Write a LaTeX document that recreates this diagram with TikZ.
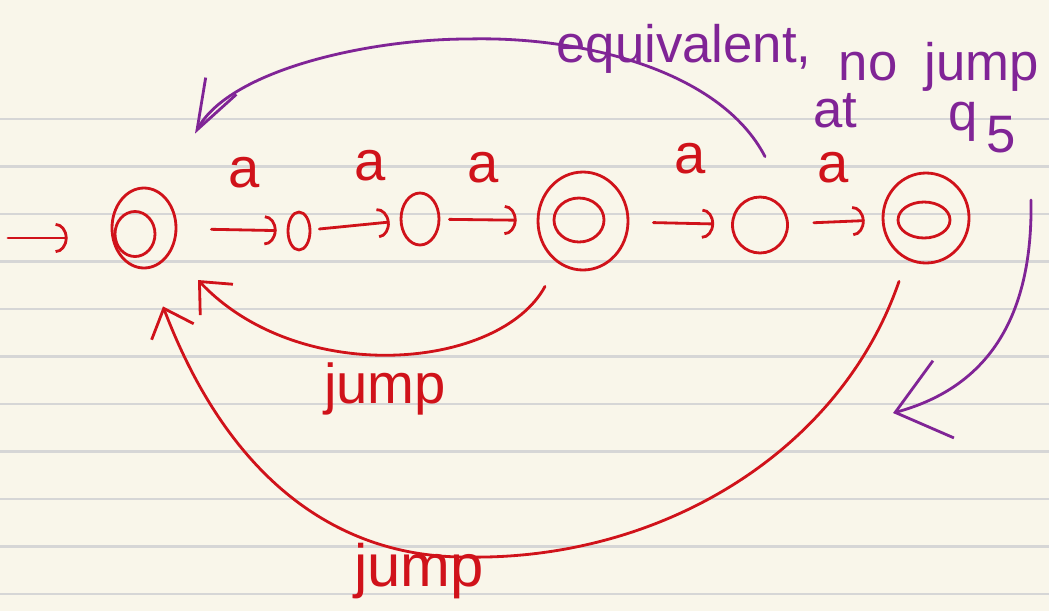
\documentclass[tikz,border=0pt]{standalone}
\usepackage{fontspec}
\setmainfont{Liberation Sans}
\usetikzlibrary{arrows.meta,shapes.geometric}
\definecolor{paper}{RGB}{249,246,234}
\definecolor{rule}{RGB}{214,214,214}
\definecolor{ink}{RGB}{208,18,26}
\definecolor{pen}{RGB}{128,36,150}
\tikzset{
  st/.style={draw=ink,ellipse,inner sep=0pt,line width=0.8pt},
  trans/.style={draw=ink,line width=0.8pt,-{Arc Barb[width=3mm,length=1.2mm]}},
  jumpline/.style={draw=ink,line width=0.8pt,-{Straight Barb[length=2.5mm,width=4.5mm]}},
  noteline/.style={draw=pen,line width=0.8pt},
  lbl/.style={text=ink,font=\fontsize{16}{19}\selectfont,anchor=base,inner sep=0pt},
  note/.style={text=pen,font=\fontsize{15}{18}\selectfont,anchor=base,inner sep=0pt}
}

\begin{document}
\begin{tikzpicture}[line cap=round,line join=round]
  \path[use as bounding box,fill=paper] (0,0) rectangle (10.49,6.11);
  \foreach \k in {0,...,10}
    \draw[rule,line width=0.6pt] (0,4.92-0.475*\k) -- (10.49,4.92-0.475*\k);
  % states
  \node[st,minimum width=6.4mm,minimum height=8mm] (q0) at (1.44,3.83) {};
  \node[st,minimum width=4mm,minimum height=4.5mm] (q0i) at (1.35,3.77) {};
  \node[st,minimum width=2.2mm,minimum height=3.8mm] (q1) at (2.99,3.80) {};
  \node[st,minimum width=3.8mm,minimum height=5.2mm] (q2) at (4.20,3.92) {};
  \node[st,minimum width=9mm,minimum height=9.8mm] (q3) at (5.83,3.90) {};
  \node[st,minimum width=5mm,minimum height=4.4mm] (q3i) at (5.79,3.91) {};
  \node[st,minimum width=5.5mm,minimum height=5.6mm] (q4) at (7.60,3.86) {};
  \node[st,minimum width=8.6mm,minimum height=9mm] (q5) at (9.26,3.93) {};
  \node[st,minimum width=5.2mm,minimum height=3.6mm] (q5i) at (9.24,3.91) {};
  % a-transitions
  \coordinate (start) at (0.08,3.73);
  \draw[trans,shorten >=4.3mm] (start) -- (start -| q0.west);
  \draw[trans,shorten <=3.4mm,shorten >=1mm] (q0) -- (q1);
  \draw[trans,shorten <=0.8mm,shorten >=1mm] (q1) -- (q2);
  \draw[trans,shorten <=0.9mm,shorten >=2mm] (q2) -- (q3);
  \draw[trans,shorten <=2.4mm,shorten >=1.7mm] (q3) -- (q4);
  \draw[trans,shorten <=2.5mm,shorten >=1.7mm] (q4) -- (q5);
  \node[lbl] (a01) at (2.44,4.24) {a};
  \node[lbl] (a12) at (3.70,4.31) {a};
  \node[lbl] (a23) at (4.83,4.29) {a};
  \node[lbl] (a34) at (6.90,4.38) {a};
  \node[lbl] (a45) at (8.33,4.29) {a};
  % jumps back to q0
  \draw[jumpline] ([shift={(-0.38,-0.15)}]q3.south)
    .. controls +(-0.45,-0.83) and +(1.02,-1.08) .. ([shift={(0.54,-0.52)}]q0.center);
  \draw[jumpline] ([shift={(-0.27,-0.17)}]q5.south)
    .. controls +(-0.59,-1.71) and +(1.95,-0.04) .. (4.65,0.54)
    .. controls +(-1.25,0) and +(0.67,-1.76) .. ([shift={(0.19,-0.37)}]q0.south);
  \node[lbl] (j1) at (3.85,2.08) {jump};
  \node[lbl,font=\fontsize{17}{20}\selectfont] (j2) at (4.19,0.25) {jump};
  % notes
  \draw[noteline,-{Straight Barb[length=5mm,width=3.5mm]}] ([shift={(0.05,0.39)}]q4.north)
    .. controls +(-0.45,0.87) and +(1.12,0.03) .. (4.68,5.72)
    .. controls +(-0.98,0) and +(0.35,0.64) .. ([shift={(0.51,0.53)}]q0.north);
  \coordinate (noteR) at (10.31,4.11);
  \coordinate (noteTip) at (8.93,1.98);
  \draw[noteline,-{Straight Barb[length=5mm,width=8mm]}] (noteR)
    .. controls +(0.02,-1.21) and +(0.92,0.25) .. (noteTip);
  \node[note] (eq) at (6.84,5.49) {equivalent,};
  \node[note] (no) at (8.68,5.31) {no};
  \node[note] (nj) at (9.82,5.31) {jump};
  \node[note] (at) at (8.35,4.84) {at};
  \node[note] (q5l) at (9.82,4.81) {q\hspace{0.8mm}\raisebox{-2.2mm}{5}};
\end{tikzpicture}
\end{document}
